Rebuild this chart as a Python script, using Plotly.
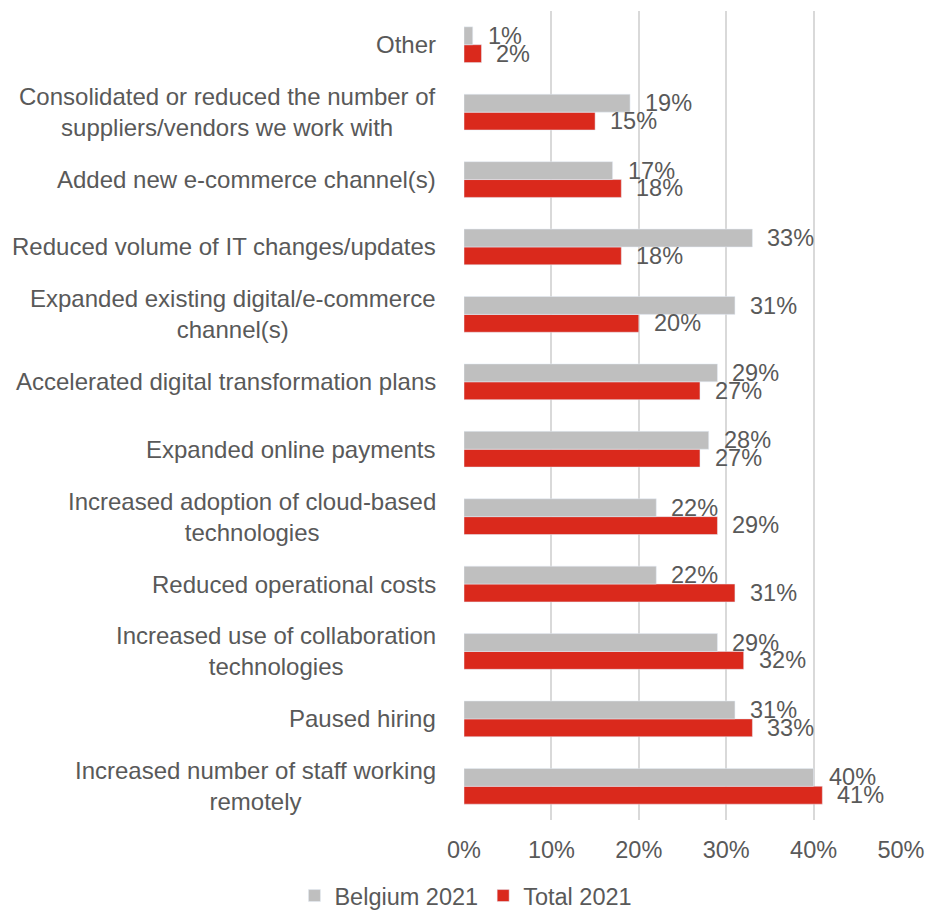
import plotly.graph_objects as go

# Survey responses, listed top to bottom as shown on the chart
categories = [
    "Other",
    "Consolidated or reduced the number of<br>suppliers/vendors we work with",
    "Added new e-commerce channel(s)",
    "Reduced volume of IT changes/updates",
    "Expanded existing digital/e-commerce<br>channel(s)",
    "Accelerated digital transformation plans",
    "Expanded online payments",
    "Increased adoption of cloud-based<br>technologies",
    "Reduced operational costs",
    "Increased use of collaboration<br>technologies",
    "Paused hiring",
    "Increased number of staff working<br>remotely",
]
belgium_2021 = [1, 19, 17, 33, 31, 29, 28, 22, 22, 29, 31, 40]
total_2021 = [2, 15, 18, 18, 20, 27, 27, 29, 31, 32, 33, 41]

x_ticks = [0, 10, 20, 30, 40, 50]
x_tick_labels = ["0%", "10%", "20%", "30%", "40%", "50%"]

GREY = "#BFBFBF"
RED = "#DA291C"
TEXT = "#595959"
FONT = "Liberation Sans, Arial, sans-serif"
LABEL_SIZE = 23.5
CAT_SIZE = 24

fig = go.Figure()
# Total drawn first so it sits below the Belgium bar within each group
fig.add_trace(go.Bar(
    y=categories, x=total_2021, orientation="h", name="Total 2021",
    marker=dict(color=RED), legendrank=2,
))
fig.add_trace(go.Bar(
    y=categories, x=belgium_2021, orientation="h", name="Belgium 2021",
    marker=dict(color=GREY), legendrank=1,
))

annotations = []
half = 8.8
for cat, b, t in zip(categories, belgium_2021, total_2021):
    # value labels just past the end of each bar
    annotations.append(dict(x=b, y=cat, xref="x", yref="y", text=f"{b}%",
                            showarrow=False, xanchor="left", yanchor="middle",
                            xshift=13, yshift=half,
                            font=dict(family=FONT, size=LABEL_SIZE, color=TEXT)))
    annotations.append(dict(x=t, y=cat, xref="x", yref="y", text=f"{t}%",
                            showarrow=False, xanchor="left", yanchor="middle",
                            xshift=13, yshift=-half,
                            font=dict(family=FONT, size=LABEL_SIZE, color=TEXT)))
    # centred, wrapped category label to the left of the axis
    annotations.append(dict(x=0, y=cat, xref="paper", yref="y", text=cat,
                            showarrow=False, xanchor="right", yanchor="middle",
                            align="center", xshift=-26,
                            font=dict(family=FONT, size=CAT_SIZE, color=TEXT)))

fig.update_layout(
    width=928, height=910,
    margin=dict(l=464, r=27, t=11, b=90, autoexpand=False),
    paper_bgcolor="white", plot_bgcolor="white",
    barmode="group", bargap=0.47, bargroupgap=0,
    font=dict(family=FONT, size=LABEL_SIZE, color=TEXT),
    annotations=annotations,
    showlegend=True,
    legend=dict(orientation="h", x=-0.388, xanchor="left", y=-0.0665, yanchor="top",
                font=dict(family=FONT, size=LABEL_SIZE, color=TEXT),
                itemwidth=30, tracegroupgap=0),
    xaxis=dict(range=[0, 50], tickvals=x_ticks, ticktext=x_tick_labels,
               showgrid=True, gridcolor="#D9D9D9", gridwidth=2,
               zeroline=False, showline=False, ticks="",
               tickfont=dict(family=FONT, size=LABEL_SIZE, color=TEXT), ticklabelstandoff=13),
    yaxis=dict(categoryorder="array", categoryarray=list(reversed(categories)),
               showgrid=False, zeroline=False, showline=False, ticks="",
               showticklabels=False),
)

fig.write_html("out.html")
